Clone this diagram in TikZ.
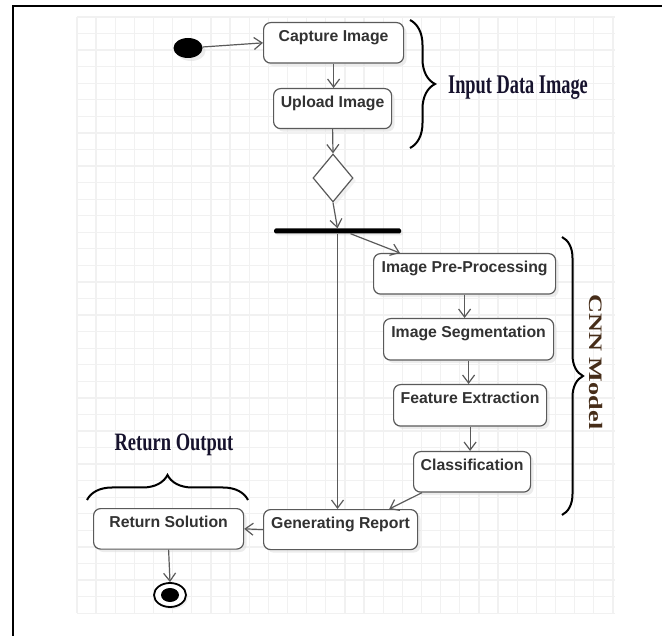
\documentclass[tikz,border=0pt]{standalone}
\usepackage{fontspec}
\usetikzlibrary{arrows.meta,shapes.geometric,decorations.pathreplacing,calc,shadows}
\newfontfamily\boxfont{Liberation Sans}
\newfontfamily\labfont{Liberation Serif}
\definecolor{gridcol}{RGB}{241,241,241}
\definecolor{edgecol}{RGB}{90,90,90}
\definecolor{txtcol}{RGB}{50,50,50}
\definecolor{labcol}{RGB}{22,18,45}
\definecolor{cnncol}{RGB}{70,45,25}
\tikzset{
  act/.style={draw=edgecol, line width=1.2pt, rounded corners=7pt, fill=white,
    anchor=north west, inner ysep=0pt, inner xsep=2pt, text height=18.5pt, text depth=22pt,
    font=\boxfont\bfseries\fontsize{15.8}{16}\selectfont, text=txtcol,
    drop shadow={fill=black!12, shadow xshift=3pt, shadow yshift=-3pt, opacity=0.6}},
  flow/.style={draw=edgecol, line width=1.2pt, -{Straight Barb[length=8pt,width=12pt,line width=1.2pt]}},
  bracestyle/.style={draw=black, line width=2pt, decorate},
  gridline/.style={draw=gridcol, line width=1.3pt},
  lab/.style={font=\labfont\bfseries, text=labcol, inner sep=0pt}
}
\begin{document}
\begin{tikzpicture}[x=1pt,y=-1pt]
\useasboundingbox (0,0) rectangle (662,636);
% grid
\foreach \i in {0,...,28} {\draw[gridline] ({77+\i*19.14},17) -- ({77+\i*19.14},613);}
\foreach \j in {0,...,36} {\draw[gridline] (77,{17+\j*16.56}) -- (615,{17+\j*16.56});}
% frame
\draw[line width=2pt] (662,6) -- (13,6) -- (13,636);
% nodes
\node[ellipse, fill=black, minimum width=29pt, minimum height=20pt, inner sep=0pt,
  drop shadow={fill=black!15, shadow xshift=3pt, shadow yshift=-3pt}] (start) at (188,48) {};
\node[act, minimum width=140pt] (cap) at (263,22) {Capture Image};
\node[act, minimum width=118pt, text depth=21.5pt] (up) at (273,88) {Upload Image};
\node[diamond, draw=edgecol, line width=1.2pt, fill=white, minimum width=40pt, minimum height=48pt, inner sep=0pt,
  drop shadow={fill=black!10, shadow xshift=3pt, shadow yshift=-3pt}] (dia) at (333,178) {};
\node[rectangle, fill=black, minimum width=127pt, minimum height=5pt, inner sep=0pt, rounded corners=1.5pt,
  drop shadow={fill=black!15, shadow xshift=2pt, shadow yshift=-2pt}] (bar) at (337.5,231) {};
\node[act, minimum width=182pt] (pre) at (373,253) {Image Pre-Processing};
\node[act, minimum width=170pt, text depth=23pt] (seg) at (383,318) {Image Segmentation};
\node[act, minimum width=153pt, text depth=23pt] (feat) at (393,384) {Feature Extraction};
\node[act, minimum width=117pt] (cls) at (413,451) {Classification};
\node[act, minimum width=154pt, text depth=21.5pt] (gen) at (263,509) {Generating Report};
\node[act, minimum width=150pt] (ret) at (93,508) {Return Solution};
\node[ellipse, draw=black, line width=1.8pt, fill=white, minimum width=32pt, minimum height=24pt, inner sep=0pt,
  path picture={\fill[black] (path picture bounding box.center) ellipse [x radius=9pt, y radius=7pt];},
  drop shadow={fill=black!12, shadow xshift=2pt, shadow yshift=-2pt}] (end) at (170,595) {};
% connectors
\draw[flow] (start) -- (cap.west);
\draw[flow] (cap.south) -- (cap.south |- up.north);
\draw[flow] (up.south) -- (dia.north);
\draw[flow] (dia.south) -- (bar.north);
\draw[flow] (bar.south) -- (bar.south |- gen.north);
\draw[flow] ($(bar.south)+(13,0)$) -- ($(pre.north west)+(27,0)$);
\draw[flow] (pre.south) -- (pre.south |- seg.north);
\draw[flow] (seg.south) -- (seg.south |- feat.north);
\draw[flow] (feat.south) -- (feat.south |- cls.north);
\draw[flow] ($(cls.south west)+(9,0)$) -- ($(gen.north east)+(-29,0)$);
\draw[flow] (gen.west) -- (ret.east);
\draw[flow] (ret.south) -- (end.north);
% braces
\draw[bracestyle, decoration={brace, amplitude=25pt, aspect=0.5}] (410,20) -- (410,148);
\draw[bracestyle, decoration={brace, amplitude=21pt, aspect=0.5}] (562,237) -- (562,515);
\draw[bracestyle, decoration={brace, amplitude=25pt, aspect=0.5}] (87,500) -- (248,500);
% labels
\node[lab, font=\labfont\bfseries\fontsize{27}{27}\selectfont] (inlab) at (518,88) {\scalebox{0.68}[1]{Input Data Image}};
\node[lab, font=\labfont\bfseries\fontsize{25}{25}\selectfont] (outlab) at (174,445) {\scalebox{0.74}[1]{Return Output}};
\node[lab, text=cnncol, rotate=-90, font=\labfont\bfseries\fontsize{19}{19}\selectfont] (cnnlab) at (596,362) {\scalebox{1.38}[1]{CNN Model}};
\end{tikzpicture}
\end{document}
